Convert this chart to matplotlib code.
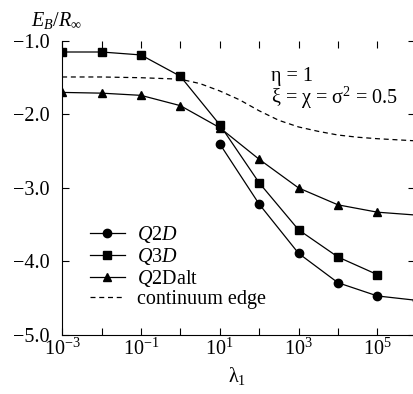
import numpy as np
import matplotlib.pyplot as plt

plt.rcParams['font.family'] = ['Liberation Serif', 'DejaVu Serif']
plt.rcParams['mathtext.fontset'] = 'custom'
plt.rcParams['mathtext.rm'] = 'Liberation Serif'
plt.rcParams['mathtext.it'] = 'Liberation Serif:italic'

# data
lam_q3d = [1e-3, 1e-2, 1e-1, 1, 1e1, 1e2, 1e3, 1e4, 1e5]
e_q3d = [-1.15, -1.15, -1.19, -1.48, -2.14, -2.93, -3.57, -3.94, -4.18]

lam_q2d = [1e1, 1e2, 1e3, 1e4, 1e5, 1e6]
e_q2d = [-2.40, -3.22, -3.89, -4.29, -4.47, -4.53]

lam_alt = [1e-3, 1e-2, 1e-1, 1, 1e1, 1e2, 1e3, 1e4, 1e5, 1e6]
e_alt = [-1.70, -1.71, -1.74, -1.88, -2.18, -2.61, -3.00, -3.23, -3.33, -3.37]

lam_edge = [1e-3, 1e-2, 1e-1, 1, 10**0.5, 1e1, 10**1.5, 1e2, 10**2.5, 1e3,
            10**3.5, 1e4, 10**4.5, 1e5, 1e6]
e_edge = [-1.49, -1.49, -1.50, -1.52, -1.58, -1.68, -1.80, -1.95, -2.08, -2.17,
          -2.23, -2.28, -2.31, -2.33, -2.36]

fs = 14.5

fig = plt.figure(figsize=(4.14, 3.94), dpi=100)
ax = fig.add_axes([0.150, 0.150, 0.852, 0.746])

kw = dict(color='black', lw=0.9, markersize=6)
ax.plot(lam_q2d, e_q2d, marker='o', label=r'$Q2D$', **kw)
ax.plot(lam_q3d, e_q3d, marker='s', label=r'$Q3D$', **kw)
ax.plot(lam_alt, e_alt, marker='^', label=r'$Q$2Dalt', **kw)
ax.plot(lam_edge, e_edge, ls=(0, (4, 3)), color='black', lw=0.9, label='continuum edge')

ax.set_xscale('log')
ax.set_xlim(1e-3, 10**5.95)
ax.set_ylim(-5.0, -1.0)

ax.set_xticks([10.0**k for k in range(-3, 6)])
ax.set_xticklabels(['$10^{%d}$' % k if k % 2 else '' for k in range(-3, 6)])
ax.minorticks_off()
ax.set_yticks([-1, -2, -3, -4, -5])
ax.set_yticklabels(['\u22121.0', '\u22122.0', '\u22123.0', '\u22124.0', '\u22125.0'])
ax.tick_params(direction='in', top=True, right=True, length=5, width=0.8,
               labelsize=fs)
ax.tick_params(axis='y', pad=9)
ax.tick_params(axis='x', pad=3)
ax.spines['top'].set_visible(False)
ax.spines['right'].set_visible(False)

ax.text(0.593, 0.865, '\u03b7 = 1', transform=ax.transAxes, fontsize=fs)
ax.text(0.593, 0.785, '\u03be = \u03c7 = \u03c3$^2$ = 0.5', transform=ax.transAxes, fontsize=fs)

ax.legend(loc='lower left', bbox_to_anchor=(0.055, 0.06), frameon=False,
          fontsize=fs, handlelength=1.75, labelspacing=0.05, handletextpad=0.6,
          borderaxespad=0)

fig.text(0.075, 0.935, r'$E_B/R_\infty$', fontsize=fs)
fig.text(0.573, 0.03, '\u03bb$_1$', fontsize=fs, ha='center')

fig.savefig('out.png', dpi=100)
